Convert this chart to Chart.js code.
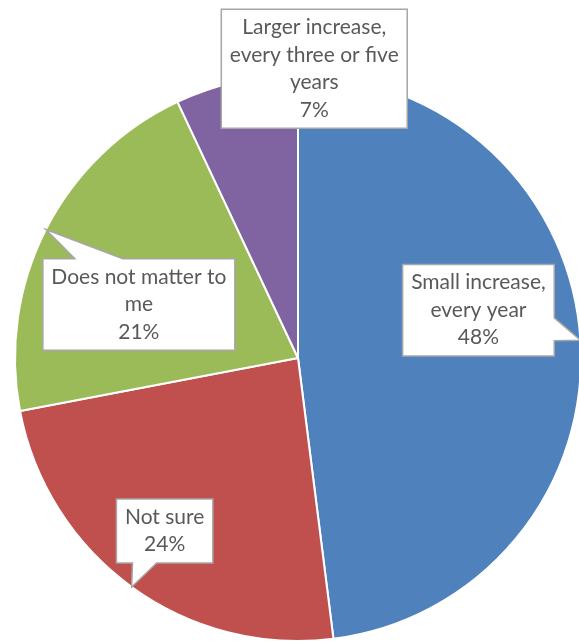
<!DOCTYPE html>
<html lang="en">
<head>
    <meta charset="UTF-8">
    <title>Raise preference</title>
    <style>
        html, body {
            margin: 0;
            padding: 0;
            background: #ffffff;
            overflow: hidden;
        }

        #wrap {
            position: relative;
            width: 579px;
            height: 641px;
            overflow: hidden;
        }

        #chartPie {
            position: absolute;
            left: 0;
            top: 0;
        }
    </style>
    <script src="https://cdn.jsdelivr.net/npm/chart.js"></script>
</head>

<body>
    <div id="wrap">
        <canvas id="chartPie" width="600" height="660"></canvas>
    </div>

    <script>
        // data, clockwise from 12 o'clock
        const categories = [
            ['Small increase,', 'every year'],
            ['Not sure'],
            ['Does not matter to', 'me'],
            ['Larger increase,', 'every three or five', 'years']
        ];
        const shares = [48, 24, 21, 7];
        const sliceColors = ['#4F81BD', '#C0504D', '#9BBB59', '#8064A2'];

        // where each callout box centre sits, relative to the tip of its pointer
        const calloutOffsets = [[-102, -30], [33, -56], [93, 75], [78, -13]];

        const LABEL_FONT = '21px Lato';
        const LINE_H = 27.5;
        const PAD_X = 8.5;
        const PAD_Y = 4.5;

        // rectangle with a wedge pointing at (tx, ty), like the office callout shape
        function calloutPath(ctx, l, t, w, h, tx, ty) {
            const r = l + w, b = t + h, cx = l + w / 2, cy = t + h / 2;
            const dx = (tx - cx) / w, dy = (ty - cy) / h;
            const inside = Math.abs(dx) <= 0.5 && Math.abs(dy) <= 0.5;
            const vertical = Math.abs(dy) >= Math.abs(dx);
            const xa = tx < cx ? l + w / 6 : l + w * 7 / 12;
            const xb = tx < cx ? l + w * 5 / 12 : l + w * 5 / 6;
            const ya = ty < cy ? t + h / 6 : t + h * 7 / 12;
            const yb = ty < cy ? t + h * 5 / 12 : t + h * 5 / 6;

            ctx.beginPath();
            ctx.moveTo(l, t);
            if (!inside && vertical && dy < 0) {
                ctx.lineTo(xa, t); ctx.lineTo(tx, ty); ctx.lineTo(xb, t);
            }
            ctx.lineTo(r, t);
            if (!inside && !vertical && dx > 0) {
                ctx.lineTo(r, ya); ctx.lineTo(tx, ty); ctx.lineTo(r, yb);
            }
            ctx.lineTo(r, b);
            if (!inside && vertical && dy > 0) {
                ctx.lineTo(xb, b); ctx.lineTo(tx, ty); ctx.lineTo(xa, b);
            }
            ctx.lineTo(l, b);
            if (!inside && !vertical && dx < 0) {
                ctx.lineTo(l, yb); ctx.lineTo(tx, ty); ctx.lineTo(l, ya);
            }
            ctx.closePath();
        }

        const calloutPlugin = {
            id: 'callouts',
            afterDatasetsDraw(chart) {
                const ctx = chart.ctx;
                const meta = chart.getDatasetMeta(0);
                const total = shares.reduce((a, b) => a + b, 0);

                ctx.save();
                ctx.font = LABEL_FONT;
                meta.data.forEach((arc, i) => {
                    const p = arc.getProps(['x', 'y', 'startAngle', 'endAngle', 'outerRadius'], true);
                    const mid = (p.startAngle + p.endAngle) / 2;
                    const tipX = p.x + Math.cos(mid) * p.outerRadius;
                    const tipY = p.y + Math.sin(mid) * p.outerRadius;

                    const lines = categories[i].concat([Math.round(shares[i] / total * 100) + '%']);
                    const w = Math.max(...lines.map(s => ctx.measureText(s).width)) + 2 * PAD_X;
                    const h = lines.length * LINE_H + 2 * PAD_Y;
                    const left = tipX + calloutOffsets[i][0] - w / 2;
                    const top = tipY + calloutOffsets[i][1] - h / 2;

                    calloutPath(ctx, left, top, w, h, tipX, tipY);
                    ctx.fillStyle = '#ffffff';
                    ctx.fill();
                    ctx.lineWidth = 1.5;
                    ctx.strokeStyle = '#a6a6a6';
                    ctx.lineJoin = 'miter';
                    ctx.stroke();

                    ctx.fillStyle = '#595959';
                    ctx.textAlign = 'center';
                    ctx.textBaseline = 'middle';
                    lines.forEach((s, k) => {
                        ctx.fillText(s, left + w / 2, top + PAD_Y + LINE_H * (k + 0.5));
                    });
                });
                ctx.restore();
            }
        };

        new Chart(document.getElementById('chartPie'), {
            type: 'pie',
            data: {
                labels: categories,
                datasets: [{
                    data: shares,
                    backgroundColor: sliceColors,
                    borderColor: '#ffffff',
                    borderWidth: 2
                }]
            },
            options: {
                responsive: false,
                animation: false,
                layout: {
                    padding: { left: 14, top: 74, right: 18, bottom: 18 }
                },
                plugins: {
                    legend: { display: false },
                    tooltip: { enabled: false }
                }
            },
            plugins: [calloutPlugin]
        });
    </script>
</body>

</html>
